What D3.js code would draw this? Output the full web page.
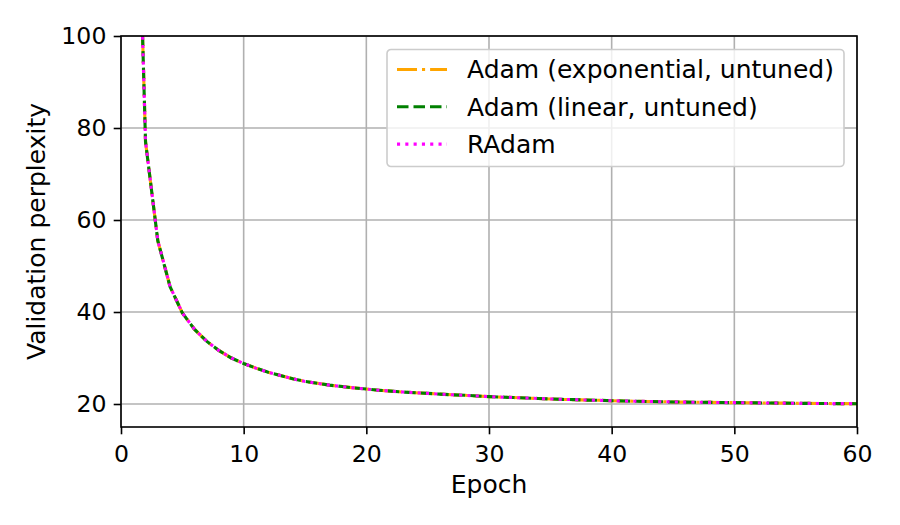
<!DOCTYPE html>
<meta charset="utf-8">
<head>
<script src="https://d3js.org/d3.v7.min.js"></script>
<style>
  body { margin: 0; background: #fff; }
  text { font-family: "DejaVu Sans", sans-serif; }
</style>
</head>
<body>
<div id="my_dataviz"></div>
<script>

// data (validation perplexity per epoch)
var epochs = d3.range(1, 61);
var adamExp = [172, 77, 55.5, 45.5, 39.8, 36.2, 33.6, 31.6, 30.0, 28.8,
  27.8, 26.9, 26.2, 25.5, 24.9, 24.5, 24.1, 23.8, 23.5, 23.25,
  23.0, 22.8, 22.6, 22.45, 22.3, 22.15, 22.0, 21.9, 21.75, 21.6,
  21.5, 21.4, 21.3, 21.2, 21.1, 21.0, 20.95, 20.85, 20.8, 20.7,
  20.65, 20.6, 20.55, 20.5, 20.45, 20.4, 20.38, 20.35, 20.32, 20.3,
  20.27, 20.24, 20.21, 20.18, 20.15, 20.13, 20.11, 20.09, 20.08, 20.07];
var adamLin = [172, 77, 55.5, 45.5, 39.8, 36.2, 33.6, 31.6, 30.0, 28.8,
  27.8, 26.9, 26.2, 25.5, 24.9, 24.5, 24.1, 23.8, 23.5, 23.25,
  23.0, 22.8, 22.6, 22.45, 22.3, 22.15, 22.0, 21.9, 21.75, 21.6,
  21.5, 21.4, 21.3, 21.2, 21.1, 21.0, 20.95, 20.85, 20.8, 20.7,
  20.65, 20.6, 20.55, 20.5, 20.45, 20.4, 20.38, 20.35, 20.32, 20.3,
  20.27, 20.24, 20.21, 20.18, 20.15, 20.13, 20.11, 20.09, 20.08, 20.07];
var radam = [172, 77, 55.5, 45.5, 39.8, 36.2, 33.6, 31.6, 30.0, 28.8,
  27.8, 26.9, 26.2, 25.5, 24.9, 24.5, 24.1, 23.8, 23.5, 23.25,
  23.0, 22.8, 22.6, 22.45, 22.3, 22.15, 22.0, 21.9, 21.75, 21.6,
  21.5, 21.4, 21.3, 21.2, 21.1, 21.0, 20.95, 20.85, 20.8, 20.7,
  20.65, 20.6, 20.55, 20.5, 20.45, 20.4, 20.38, 20.35, 20.32, 20.3,
  20.27, 20.24, 20.21, 20.18, 20.15, 20.13, 20.11, 20.09, 20.08, 20.07];
var seriesNames = ["Adam (exponential, untuned)", "Adam (linear, untuned)", "RAdam"];
var xTicks = [0, 10, 20, 30, 40, 50, 60];
var yTicks = [20, 40, 60, 80, 100];

var styles = [
  {color: "orange", dash: "20,5,3.1,5"},
  {color: "green", dash: "11.5,5"},
  {color: "magenta", dash: "3.1,5.2"}
];

// set the dimensions and margins of the graph
var margin = {top: 36, right: 43, bottom: 98, left: 121},
    width = 900 - margin.left - margin.right,
    height = 525 - margin.top - margin.bottom;
var fs = 23.6,   // tick labels
    fsL = 25;    // axis labels + legend

var svg = d3.select("#my_dataviz")
  .append("svg")
    .attr("width", 900)
    .attr("height", 525)
  .append("g")
    .attr("transform", "translate(" + margin.left + "," + margin.top + ")");

var x = d3.scaleLinear().domain([0, 60]).range([0, width]);
var y = d3.scaleLinear().domain([15, 100]).range([height, 0]);

// grid
svg.append("g").selectAll("line").data(xTicks).join("line")
  .attr("x1", d => x(d)).attr("x2", d => x(d))
  .attr("y1", 0).attr("y2", height)
  .attr("stroke", "#b0b0b0").attr("stroke-width", 1.6);
svg.append("g").selectAll("line").data(yTicks).join("line")
  .attr("x1", 0).attr("x2", width)
  .attr("y1", d => y(d)).attr("y2", d => y(d))
  .attr("stroke", "#b0b0b0").attr("stroke-width", 1.6);

// lines
svg.append("clipPath").attr("id", "clip")
  .append("rect").attr("width", width).attr("height", height);

var allSeries = [adamExp, adamLin, radam];
var line = d3.line()
  .x(function(d, i) { return x(epochs[i]) })
  .y(function(d) { return y(d) });

allSeries.forEach(function(s, k) {
  svg.append("path").datum(s)
    .attr("clip-path", "url(#clip)")
    .attr("fill", "none")
    .attr("stroke", styles[k].color)
    .attr("stroke-width", 3.1)
    .attr("stroke-dasharray", styles[k].dash)
    .attr("d", line);
});

// axes
var xAxis = svg.append("g")
  .attr("transform", "translate(0," + height + ")")
  .call(d3.axisBottom(x).tickValues(xTicks).tickSize(7.3).tickPadding(10.5).tickSizeOuter(0));
var yAxis = svg.append("g")
  .call(d3.axisLeft(y).tickValues(yTicks).tickSize(7.3).tickPadding(7.3).tickSizeOuter(0));
[xAxis, yAxis].forEach(function(a) {
  a.selectAll("text").attr("font-size", fs).attr("font-family", "DejaVu Sans").attr("fill", "#000");
  a.selectAll("line").attr("stroke", "#000").attr("stroke-width", 1.6);
  a.select(".domain").remove();
});

// frame
svg.append("rect")
  .attr("width", width).attr("height", height)
  .attr("fill", "none").attr("stroke", "#000").attr("stroke-width", 1.6);

// axis labels
svg.append("text")
  .attr("x", width / 2).attr("y", 492.7 - margin.top)
  .attr("text-anchor", "middle").attr("font-size", fsL)
  .text("Epoch");
svg.append("text")
  .attr("transform", "translate(-76," + (height / 2) + ") rotate(-90)")
  .attr("text-anchor", "middle").attr("font-size", fsL)
  .text("Validation perplexity");

// legend
var lg = svg.append("g").attr("transform", "translate(" + (387 - margin.left) + "," + (49.5 - margin.top) + ")");
lg.append("rect")
  .attr("width", 457).attr("height", 117).attr("rx", 4)
  .attr("fill", "#fff").attr("fill-opacity", 0.8)
  .attr("stroke", "#cccccc").attr("stroke-width", 1.6);
seriesNames.forEach(function(name, k) {
  var cy = 20 + k * 37.3;
  lg.append("line")
    .attr("x1", 10).attr("x2", 60).attr("y1", cy).attr("y2", cy)
    .attr("stroke", styles[k].color).attr("stroke-width", 3.1)
    .attr("stroke-dasharray", styles[k].dash);
  lg.append("text")
    .attr("x", 80).attr("y", cy).attr("dy", "0.35em")
    .attr("font-size", fsL).text(name);
});

</script>
</body>
</html>
